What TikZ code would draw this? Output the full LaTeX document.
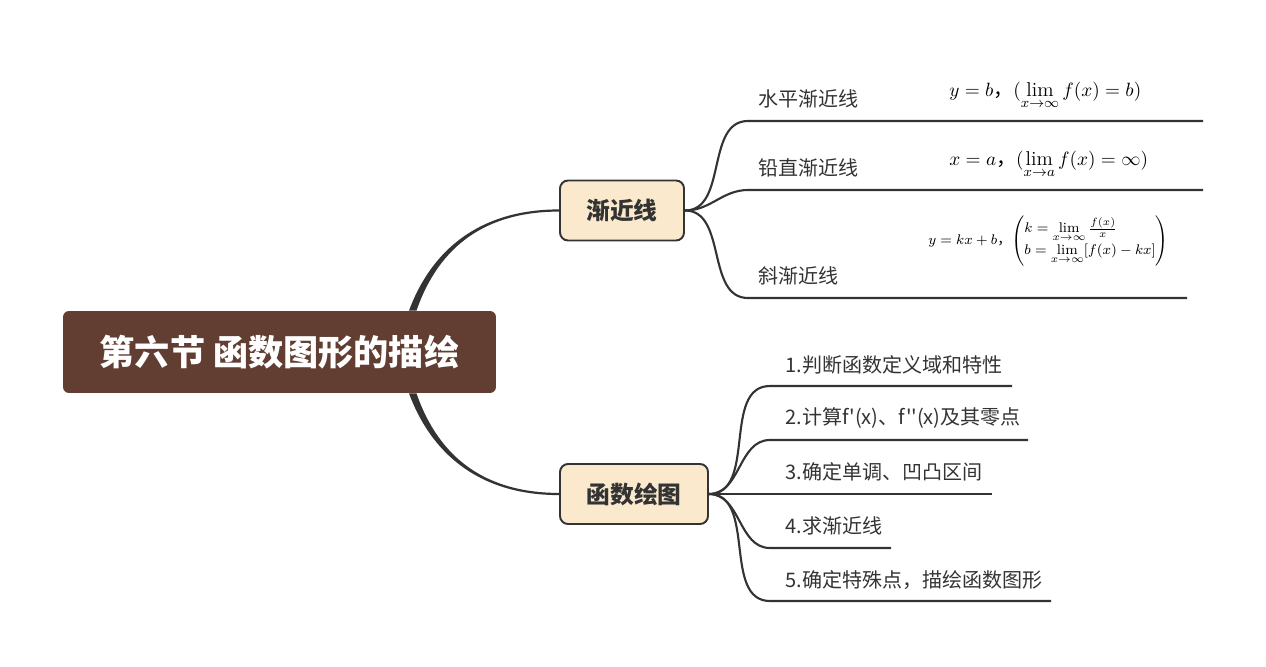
\documentclass[tikz,border=0pt]{standalone}
\usepackage{amsmath}
\usepackage{fontspec}
\newfontfamily\cjk[Ligatures=TeXOff]{Noto Sans CJK SC}
\usetikzlibrary{calc}
\definecolor{rootbg}{HTML}{623E32}
\definecolor{topicbg}{HTML}{FAE9CD}
\definecolor{ink}{HTML}{333333}

\begin{document}
\begin{tikzpicture}[x=0.02cm,y=-0.02cm,
rootnode/.style={fill=rootbg,rounded corners=0.12cm,minimum width=8.66cm,minimum height=1.64cm,text=white,font=\cjk\bfseries\fontsize{20}{23}\selectfont},
topic/.style={draw=ink,line width=1.1pt,fill=topicbg,rounded corners=0.16cm,minimum height=1.2cm,text=ink,font=\cjk\bfseries\fontsize{13.5}{16}\selectfont},
leaf/.style={anchor=west,inner sep=0pt,text=ink,font=\cjk\fontsize{11.4}{13}\selectfont},
formula/.style={anchor=base west,inner sep=0pt,text=black,font=\fontsize{11.4}{13}\selectfont},
link/.style={draw=ink,line width=1.2pt}
]
\useasboundingbox (0,0) rectangle (1266,666);

% main nodes
\node[rootnode] (root) at (279.5,352) {第六节 函数图形的描绘};
\node[topic,minimum width=2.48cm] (asym) at (622,210.5) {渐近线};
\node[topic,minimum width=2.96cm] (plot) at (634,494) {函数绘图};

% tapered links from the root
\fill[ink] ([xshift=2.59cm]root.north) .. controls +(0.5cm,1.34cm) and +(-1.46cm,0) .. ([yshift=0.022cm]asym.west)
  -- ([yshift=-0.022cm]asym.west) .. controls +(-1.46cm,0) and +(0.45cm,1.3cm) .. ([xshift=2.74cm]root.north) -- cycle;
\fill[ink] ([xshift=2.59cm]root.south) .. controls +(0.5cm,-1.34cm) and +(-1.46cm,0) .. ([yshift=-0.022cm]plot.west)
  -- ([yshift=0.022cm]plot.west) .. controls +(-1.46cm,0) and +(0.45cm,-1.3cm) .. ([xshift=2.74cm]root.south) -- cycle;

% asymptotes
\node[leaf] (hz) at (758,99) {水平渐近线};
\node[leaf] (vt) at (758,168) {铅直渐近线};
\node[leaf] (ob) at (758,276) {斜渐近线};
\node[formula] (hzf) at (949,96) {$y=b${\cjk ，}$(\lim\limits_{x\to\infty}f(x)=b)$};
\node[formula] (vtf) at (949,165) {$x=a${\cjk ，}$(\lim\limits_{x\to a}f(x)=\infty)$};
\node[formula,anchor=west,font=\fontsize{8}{9.5}\selectfont] (obf) at (928,241)
  {$y=kx+b${\cjk ，}$\left(\begin{array}{@{}l@{}}k=\lim\limits_{x\to\infty}\frac{f(x)}{x}\\ b=\lim\limits_{x\to\infty}[f(x)-kx]\end{array}\right)$};
\coordinate (hzL) at (748,121); \coordinate (hzR) at (1203,121);
\coordinate (vtL) at (748,190); \coordinate (vtR) at (1203,190);
\coordinate (obL) at (748,298); \coordinate (obR) at (1187,298);
\draw[link] (asym.east) to[out=0,in=180] (hzL) -- (hzR);
\draw[link] (asym.east) to[out=0,in=180] (vtL) -- (vtR);
\draw[link] (asym.east) to[out=0,in=180] (obL) -- (obR);

% steps
\node[leaf] (s1) at (785,365) {1.判断函数定义域和特性};
\node[leaf] (s2) at (785,418) {2.计算f'(x)、f''(x)及其零点};
\node[leaf] (s3) at (785,472) {3.确定单调、凹凸区间};
\node[leaf] (s4) at (785,526) {4.求渐近线};
\node[leaf] (s5) at (785,580) {5.确定特殊点，描绘函数图形};
\coordinate (s1L) at (770,386); \coordinate (s1R) at (1012,386);
\coordinate (s2L) at (770,440); \coordinate (s2R) at (1028,440);
\coordinate (s3R) at (992,494);
\coordinate (s4L) at (770,548); \coordinate (s4R) at (891,548);
\coordinate (s5L) at (770,601); \coordinate (s5R) at (1051,601);
\draw[link] (plot.east) to[out=0,in=180] (s1L) -- (s1R);
\draw[link] (plot.east) to[out=0,in=180] (s2L) -- (s2R);
\draw[link] (plot.east) -- (s3R);
\draw[link] (plot.east) to[out=0,in=180] (s4L) -- (s4R);
\draw[link] (plot.east) to[out=0,in=180] (s5L) -- (s5R);
\end{tikzpicture}
\end{document}
